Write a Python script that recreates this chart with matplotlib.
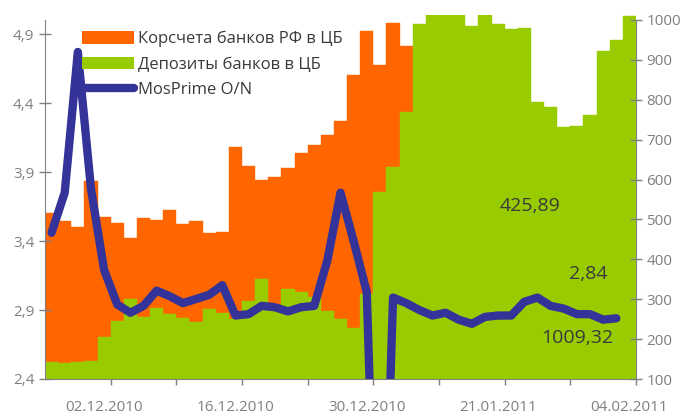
import matplotlib
matplotlib.use('Agg')
import matplotlib.pyplot as plt
from matplotlib.patches import Patch
from matplotlib.lines import Line2D
import numpy as np

plt.rcParams['font.family'] = ['Open Sans', 'DejaVu Sans']

dates = ['26.11.2010', '29.11.2010', '30.11.2010', '01.12.2010', '02.12.2010',
         '03.12.2010', '06.12.2010', '07.12.2010', '08.12.2010', '09.12.2010',
         '10.12.2010', '13.12.2010', '14.12.2010', '15.12.2010', '16.12.2010',
         '17.12.2010', '20.12.2010', '21.12.2010', '22.12.2010', '23.12.2010',
         '24.12.2010', '27.12.2010', '28.12.2010', '29.12.2010', '30.12.2010',
         '31.12.2010', '11.01.2011', '12.01.2011', '13.01.2011', '14.01.2011',
         '17.01.2011', '18.01.2011', '19.01.2011', '20.01.2011', '21.01.2011',
         '24.01.2011', '25.01.2011', '26.01.2011', '27.01.2011', '28.01.2011',
         '31.01.2011', '01.02.2011', '02.02.2011', '03.02.2011', '04.02.2011']

# Корсчета банков РФ в ЦБ, млрд руб. (right axis)
korschet = [517, 497, 482, 596, 507, 492, 454, 504, 499, 524,
            488, 497, 467, 469, 682, 635, 599, 607, 630, 667,
            687, 712, 747, 862, 972, 887, 993, 935, 720, 650,
            600, 560, 530, 505, 490, 475, 465, 455, 450, 440,
            435, 430, 430, 428, 425.89]

# Депозиты банков в ЦБ, млрд руб. (right axis)
deposits = [143, 141, 143, 146, 206, 246, 300, 256, 279, 264,
            254, 244, 276, 266, 250, 296, 351, 275, 326, 319,
            306, 270, 251, 229, 313, 569, 632, 769, 989, 1015,
            1015, 1015, 985, 1015, 990, 977, 979, 794, 781, 731,
            734, 762, 922, 950, 1009.32]

# MosPrime O/N, % (left axis)
mosprime = [3.46, 3.75, 4.77, 3.78, 3.19, 2.94, 2.88, 2.93, 3.04, 3.00,
            2.95, 2.98, 3.01, 3.08, 2.86, 2.87, 2.93, 2.92, 2.89, 2.92,
            2.93, 3.26, 3.75, 3.40, 3.03, 0.0, 2.99, 2.95, 2.90, 2.86,
            2.88, 2.83, 2.80, 2.85, 2.86, 2.86, 2.96, 2.99, 2.93, 2.91,
            2.87, 2.87, 2.83, 2.84, np.nan]

left_ticks = [2.4, 2.9, 3.4, 3.9, 4.4, 4.9]
right_ticks = [100, 200, 300, 400, 500, 600, 700, 800, 900, 1000]

orange = '#FF6600'
green = '#99CC00'
navy = '#333399'
gray = '#808080'
text_dark = '#3a3a3a'

fig = plt.figure(figsize=(6.87, 4.15), dpi=100)
ax = fig.add_axes([45 / 687, 1 - 379 / 415, 591 / 687, 364 / 415])

x = np.arange(len(dates))
ax.bar(x, korschet, width=1.0, color=orange, edgecolor=orange, linewidth=0.3)
ax.bar(x, deposits, width=1.0, color=green, edgecolor=green, linewidth=0.3)
ax.set_xlim(-0.5, len(dates) - 0.5)
ax.set_ylim(100, 1012.5)

ax2 = ax.twinx()
ax2.plot(x, mosprime, color=navy, linewidth=6.0,
         solid_capstyle='round', solid_joinstyle='round')
ax2.set_ylim(2.4, 5.038)

# right axis belongs to the bars, left axis to the line
ax.yaxis.tick_right()
ax2.yaxis.tick_left()

for s in ['left', 'top']:
    ax.spines[s].set_visible(False)
for s in ['right', 'top', 'bottom']:
    ax2.spines[s].set_visible(False)
ax.spines['right'].set_color(gray)
ax.spines['bottom'].set_color(gray)
ax2.spines['left'].set_color(gray)
ax.spines['right'].set_bounds(100, 1000)
ax2.spines['left'].set_bounds(2.4, 5.0)

ax.set_yticks(right_ticks)
ax.set_yticklabels([str(v) for v in right_ticks])
ax2.set_yticks(left_ticks)
ax2.set_yticklabels([('%.1f' % v).replace('.', ',') for v in left_ticks])
ax.tick_params(axis='y', direction='inout', length=9, width=1, color=gray,
               labelcolor=gray, labelsize=11, pad=3)
ax2.tick_params(axis='y', direction='inout', length=9, width=1, color=gray,
                labelcolor=gray, labelsize=11, pad=3)

ax.set_xticks(np.arange(4.5, len(dates), 5))
ax.set_xticklabels([])
ax.tick_params(axis='x', which='major', direction='out', length=4, width=1, color=gray)
label_idx = [4, 14, 24, 34, 44]
ax.set_xticks(label_idx, minor=True)
ax.set_xticklabels([dates[i] for i in label_idx], minor=True)
ax.tick_params(axis='x', which='minor', length=0, labelcolor=gray, labelsize=11, pad=15)

handles = [Patch(facecolor=orange, edgecolor='none'),
           Patch(facecolor=green, edgecolor='none'),
           Line2D([0], [0], color=navy, linewidth=6.0, solid_capstyle='round')]
labels = ['Корсчета банков РФ в ЦБ', 'Депозиты банков в ЦБ', 'MosPrime O/N']
leg = ax2.legend(handles, labels, loc='upper left',
                 bbox_to_anchor=(82 / 687, 1 - 31 / 415), bbox_transform=fig.transFigure,
                 frameon=False, fontsize=12, handlelength=3.1, handleheight=0.75,
                 handletextpad=0.25, labelspacing=0.55, borderpad=0, borderaxespad=0)
for t in leg.get_texts():
    t.set_color(text_dark)

ax.text(36.4, 521, '425,89', ha='center', va='baseline', fontsize=14, color=text_dark)
ax.text(40.9, 351, '2,84', ha='center', va='baseline', fontsize=14, color=text_dark)
ax.text(40.0, 190, '1009,32', ha='center', va='baseline', fontsize=14, color=text_dark)

fig.savefig('out.png', dpi=100)
